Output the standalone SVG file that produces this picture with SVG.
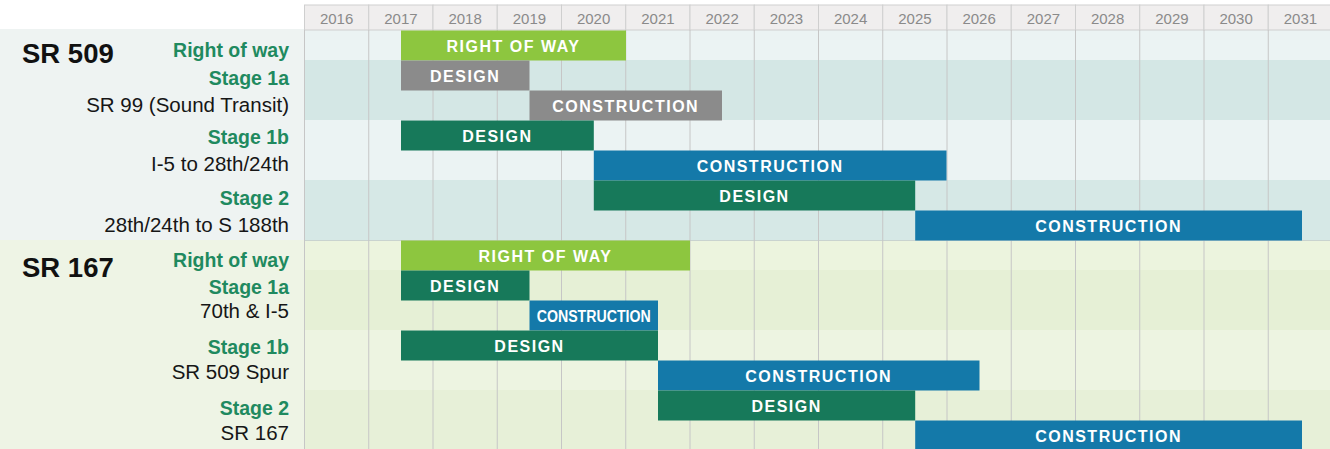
<svg xmlns="http://www.w3.org/2000/svg" width="1330" height="449" viewBox="0 0 1330 449">
<style>
.yr{font-family:"Liberation Sans",Arial,sans-serif;font-size:15px;fill:#8a8a8a;text-anchor:middle}
.hd{fill:#f0eeee;stroke:#cfcfcf;stroke-width:1}
.grid{stroke:#c6c6c6;stroke-width:1}
.sec{font-family:"Liberation Sans",Arial,sans-serif;font-size:27.5px;font-weight:bold;fill:#111}
.stg{font-family:"Liberation Sans",Arial,sans-serif;font-size:19.5px;font-weight:bold;fill:#1f8a5f;text-anchor:end}
.sub{font-family:"Liberation Sans",Arial,sans-serif;font-size:20.5px;fill:#161616;text-anchor:end}
.bl{font-family:"Liberation Sans",Arial,sans-serif;font-size:16px;font-weight:bold;fill:#fff;text-anchor:middle;letter-spacing:1.5px}
.row{fill:#8dc63f}
.gray{fill:#8b8b8b}
.des{fill:#17795a}
.con{fill:#1479a9}
</style>
<rect x="0" y="0" width="1330" height="449" fill="#ffffff"/>
<g id="backgrounds">
<rect x="0" y="29" width="305" height="211" fill="#eef3f2"/>
<rect x="0" y="240" width="305" height="209" fill="#eef4e5"/>
<rect x="305" y="30" width="1025" height="30" fill="#ebf3f3"/>
<rect x="305" y="60" width="1025" height="60" fill="#d4e7e5"/>
<rect x="305" y="120" width="1025" height="60" fill="#ebf3f3"/>
<rect x="305" y="180" width="1025" height="60" fill="#d6e8e6"/>
<rect x="305" y="240" width="1025" height="30" fill="#ecf4de"/>
<rect x="305" y="270" width="1025" height="60" fill="#e6f0d6"/>
<rect x="305" y="330" width="1025" height="60" fill="#edf4e1"/>
<rect x="305" y="390" width="1025" height="59" fill="#e7f0d8"/>
<line x1="305" y1="240.5" x2="1330" y2="240.5" stroke="#c9d3cf" stroke-width="1"/>
</g>
<g id="header">
<rect class="hd" x="304.5" y="5" width="64.25" height="25"/><text class="yr" x="336.6" y="24">2016</text>
<rect class="hd" x="368.75" y="5" width="64.25" height="25"/><text class="yr" x="400.9" y="24">2017</text>
<rect class="hd" x="433" y="5" width="64.25" height="25"/><text class="yr" x="465.1" y="24">2018</text>
<rect class="hd" x="497.25" y="5" width="64.25" height="25"/><text class="yr" x="529.4" y="24">2019</text>
<rect class="hd" x="561.5" y="5" width="64.25" height="25"/><text class="yr" x="593.6" y="24">2020</text>
<rect class="hd" x="625.75" y="5" width="64.25" height="25"/><text class="yr" x="657.9" y="24">2021</text>
<rect class="hd" x="690" y="5" width="64.25" height="25"/><text class="yr" x="722.1" y="24">2022</text>
<rect class="hd" x="754.25" y="5" width="64.25" height="25"/><text class="yr" x="786.4" y="24">2023</text>
<rect class="hd" x="818.5" y="5" width="64.25" height="25"/><text class="yr" x="850.6" y="24">2024</text>
<rect class="hd" x="882.75" y="5" width="64.25" height="25"/><text class="yr" x="914.9" y="24">2025</text>
<rect class="hd" x="947" y="5" width="64.25" height="25"/><text class="yr" x="979.1" y="24">2026</text>
<rect class="hd" x="1011.25" y="5" width="64.25" height="25"/><text class="yr" x="1043.4" y="24">2027</text>
<rect class="hd" x="1075.5" y="5" width="64.25" height="25"/><text class="yr" x="1107.6" y="24">2028</text>
<rect class="hd" x="1139.75" y="5" width="64.25" height="25"/><text class="yr" x="1171.9" y="24">2029</text>
<rect class="hd" x="1204" y="5" width="64.25" height="25"/><text class="yr" x="1236.1" y="24">2030</text>
<rect class="hd" x="1268.25" y="5" width="64.25" height="25"/><text class="yr" x="1300.4" y="24">2031</text>
</g>
<g id="gridlines">
<line class="grid" x1="304.5" y1="30" x2="304.5" y2="449"/>
<line class="grid" x1="368.75" y1="30" x2="368.75" y2="449"/>
<line class="grid" x1="433" y1="30" x2="433" y2="449"/>
<line class="grid" x1="497.25" y1="30" x2="497.25" y2="449"/>
<line class="grid" x1="561.5" y1="30" x2="561.5" y2="449"/>
<line class="grid" x1="625.75" y1="30" x2="625.75" y2="449"/>
<line class="grid" x1="690" y1="30" x2="690" y2="449"/>
<line class="grid" x1="754.25" y1="30" x2="754.25" y2="449"/>
<line class="grid" x1="818.5" y1="30" x2="818.5" y2="449"/>
<line class="grid" x1="882.75" y1="30" x2="882.75" y2="449"/>
<line class="grid" x1="947" y1="30" x2="947" y2="449"/>
<line class="grid" x1="1011.25" y1="30" x2="1011.25" y2="449"/>
<line class="grid" x1="1075.5" y1="30" x2="1075.5" y2="449"/>
<line class="grid" x1="1139.75" y1="30" x2="1139.75" y2="449"/>
<line class="grid" x1="1204" y1="30" x2="1204" y2="449"/>
<line class="grid" x1="1268.25" y1="30" x2="1268.25" y2="449"/>
</g>
<g id="labels-sr509">
<text class="sec" x="22" y="62.5">SR 509</text>
<text class="stg" x="289" y="56.5">Right of way</text>
<text class="stg" x="289" y="85">Stage 1a</text>
<text class="sub" x="289" y="111.5">SR 99 (Sound Transit)</text>
<text class="stg" x="289" y="144">Stage 1b</text>
<text class="sub" x="289" y="171">I-5 to 28th/24th</text>
<text class="stg" x="289" y="205">Stage 2</text>
<text class="sub" x="289" y="231.5">28th/24th to S 188th</text>
</g>
<g id="labels-sr167">
<text class="sec" x="22" y="276.5">SR 167</text>
<text class="stg" x="289" y="266.5">Right of way</text>
<text class="stg" x="289" y="294">Stage 1a</text>
<text class="sub" x="289" y="317.5">70th &amp; I-5</text>
<text class="stg" x="289" y="354">Stage 1b</text>
<text class="sub" x="289" y="378.5">SR 509 Spur</text>
<text class="stg" x="289" y="415">Stage 2</text>
<text class="sub" x="289" y="440">SR 167</text>
</g>
<g id="sr509-row"><rect class="row" x="401" y="30.5" width="225" height="30"/><text class="bl" x="513.5" y="51.5">RIGHT OF WAY</text></g>
<g id="sr509-1a-design"><rect class="gray" x="401" y="60.5" width="128.5" height="30"/><text class="bl" x="465.2" y="81.5">DESIGN</text></g>
<g id="sr509-1a-construction"><rect class="gray" x="529.5" y="90.5" width="192.5" height="30"/><text class="bl" x="625.7" y="111.5">CONSTRUCTION</text></g>
<g id="sr509-1b-design"><rect class="des" x="401" y="120.5" width="192.8" height="30"/><text class="bl" x="497.4" y="141.5">DESIGN</text></g>
<g id="sr509-1b-construction"><rect class="con" x="593.8" y="150.5" width="352.7" height="30"/><text class="bl" x="770.1" y="171.5">CONSTRUCTION</text></g>
<g id="sr509-2-design"><rect class="des" x="593.8" y="180.5" width="321.4" height="30"/><text class="bl" x="754.5" y="201.5">DESIGN</text></g>
<g id="sr509-2-construction"><rect class="con" x="915.2" y="210.5" width="386.8" height="30"/><text class="bl" x="1108.6" y="231.5">CONSTRUCTION</text></g>
<g id="sr167-row"><rect class="row" x="401" y="240.5" width="289" height="30"/><text class="bl" x="545.5" y="261.5">RIGHT OF WAY</text></g>
<g id="sr167-1a-design"><rect class="des" x="401" y="270.5" width="128.5" height="30"/><text class="bl" x="465.2" y="291.5">DESIGN</text></g>
<g id="sr167-1a-construction"><rect class="con" x="529.5" y="300.5" width="128.5" height="30"/><text class="bl" x="593.7" y="321.5" style="letter-spacing:0" textLength="114" lengthAdjust="spacingAndGlyphs">CONSTRUCTION</text></g>
<g id="sr167-1b-design"><rect class="des" x="401" y="330.5" width="257" height="30"/><text class="bl" x="529.5" y="351.5">DESIGN</text></g>
<g id="sr167-1b-construction"><rect class="con" x="658" y="360.5" width="321.5" height="30"/><text class="bl" x="818.7" y="381.5">CONSTRUCTION</text></g>
<g id="sr167-2-design"><rect class="des" x="658" y="390.5" width="257.2" height="30"/><text class="bl" x="786.6" y="411.5">DESIGN</text></g>
<g id="sr167-2-construction"><rect class="con" x="915.2" y="420.5" width="386.8" height="30"/><text class="bl" x="1108.6" y="441.5">CONSTRUCTION</text></g>
</svg>
